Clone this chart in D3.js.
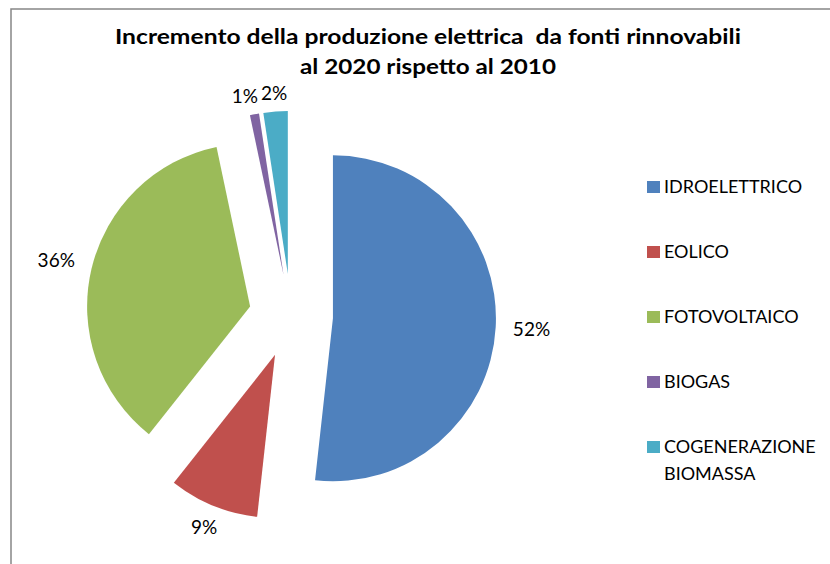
<!DOCTYPE html>
<html>
<head>
<meta charset="utf-8">
<script src="https://cdn.jsdelivr.net/npm/d3@7"></script>
<style>
  html, body { margin: 0; padding: 0; background: #fff; }
  svg { display: block; }
  text { white-space: pre; }
</style>
</head>
<body>
<svg id="chart" width="830" height="564"></svg>
<script>
// ---- data ----
const categories = ["IDROELETTRICO", "EOLICO", "FOTOVOLTAICO", "BIOGAS", "COGENERAZIONE BIOMASSA"];
const legendLines = [["IDROELETTRICO"], ["EOLICO"], ["FOTOVOLTAICO"], ["BIOGAS"], ["COGENERAZIONE", "BIOMASSA"]];
const values = [51.7, 8.9, 36.0, 0.9, 2.4];
const colors = ["#4F81BD", "#C0504D", "#9BBB59", "#8064A2", "#4BACC6"];
const titleLines = ["Incremento della produzione elettrica  da fonti rinnovabili", "al 2020 rispetto al 2010"];
const titleWidths = [626, 256];

// ---- layout ----
const W = 830, H = 564;
const cx = 291, cy = 316, R = 163, explode = 42;
const svg = d3.select("#chart");

// frame
svg.append("rect")
  .attr("x", 11).attr("y", 9)
  .attr("width", W).attr("height", H)
  .attr("fill", "#fff")
  .attr("stroke", "#868686").attr("stroke-width", 1.5);

// title
const title = svg.append("g")
  .attr("font-family", "Lato, 'Noto Sans', sans-serif")
  .attr("font-weight", "bold")
  .attr("font-size", 20)
  .attr("fill", "#000");
titleLines.forEach((t, i) => {
  title.append("text")
    .attr("text-anchor", "middle")
    .attr("x", 428).attr("y", 44 + i * 30)
    .attr("textLength", titleWidths[i])
    .attr("lengthAdjust", "spacingAndGlyphs")
    .text(t);
});

// pie
const total = d3.sum(values);
const pie = d3.pie().sort(null).value(d => d).startAngle(0).endAngle(2 * Math.PI);
const arcs = pie(values);
const arc = d3.arc().innerRadius(0).outerRadius(R);
const fmt = v => Math.round(v / total * 100) + "%";

const slices = svg.append("g").selectAll("g")
  .data(arcs).join("g")
  .attr("transform", d => {
    const m = (d.startAngle + d.endAngle) / 2;
    return `translate(${cx + Math.sin(m) * explode},${cy - Math.cos(m) * explode})`;
  });
slices.append("path")
  .attr("d", arc)
  .attr("fill", (d, i) => colors[i]);

// labels
const labelG = svg.append("g")
  .attr("font-family", "Lato, 'Noto Sans', sans-serif")
  .attr("font-size", 19)
  .attr("fill", "#000");
const labels = arcs.map((d, i) => {
  const m = (d.startAngle + d.endAngle) / 2;
  const dx = Math.sin(m), dy = -Math.cos(m);
  const t = labelG.append("text")
    .attr("text-anchor", "middle")
    .attr("dy", "0.35em")
    .text(fmt(d.value));
  const w = t.node().getComputedTextLength();
  const hw = w / 2, hh = 5;
  const dist = R + 12 + Math.abs(dx) * (hw + 5) + Math.abs(dy) * hh;
  const ox = cx + dx * explode, oy = cy + dy * explode;
  return { t, x: ox + dx * dist, y: oy + dy * dist, hw };
});
// resolve horizontal overlaps of neighbouring small labels
for (let i = labels.length - 1; i > 0; i--) {
  const a = labels[i - 1], b = labels[i];
  if (Math.abs(a.y - b.y) < 16 && a.x < b.x) {
    const overlap = (a.x + a.hw + 3) - (b.x - b.hw);
    if (overlap > 0) {
      a.x -= overlap;
      a.y += 2;
    }
  }
}
labels.forEach(l => l.t.attr("x", l.x).attr("y", l.y));

// legend
const legend = svg.append("g")
  .attr("font-family", "Lato, 'Noto Sans', sans-serif")
  .attr("font-size", 18)
  .attr("fill", "#000");
const legY = d3.scalePoint().domain(categories).range([187, 447]);
categories.forEach((c, i) => {
  const y = legY(c);
  legend.append("rect")
    .attr("x", 647).attr("y", y - 6)
    .attr("width", 13).attr("height", 12)
    .attr("fill", colors[i]);
  legendLines[i].forEach((line, j) => {
    legend.append("text")
      .attr("x", 664).attr("y", y + j * 27)
      .attr("dy", "0.35em")
      .text(line);
  });
});
</script>
</body>
</html>
